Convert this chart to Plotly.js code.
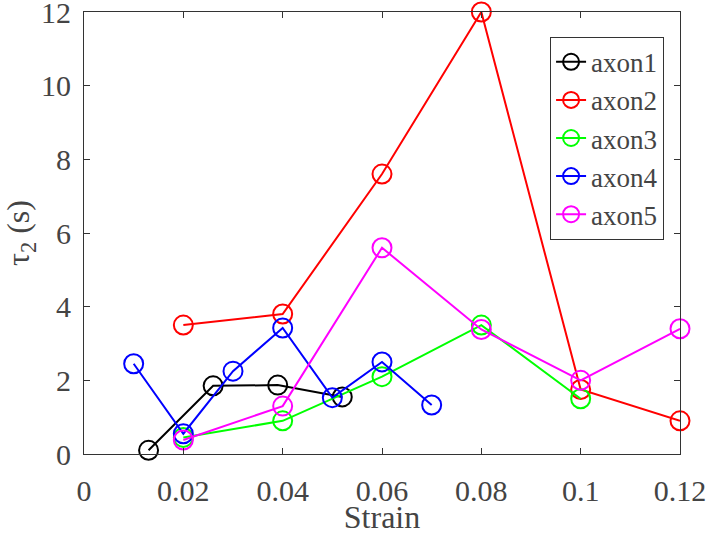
<!DOCTYPE html>
<html>
<head>
<meta charset="utf-8">
<script src="https://cdn.plot.ly/plotly-3.0.1.min.js"></script>
</head>
<body style="margin:0;background:#fff">
<div id="chart"></div>
<script>
const seriesNames = ["axon1", "axon2", "axon3", "axon4", "axon5"];
const seriesColors = ["#000000", "#ff0000", "#00ff00", "#0000ff", "#ff00ff"];

const axon1X = [0.013, 0.026, 0.039, 0.052];
const axon1Y = [0.1, 1.85, 1.87, 1.55];

const axon2X = [0.02, 0.04, 0.06, 0.08, 0.10, 0.12];
const axon2Y = [3.5, 3.8, 7.6, 12.0, 1.75, 0.9];

const axon3X = [0.02, 0.04, 0.06, 0.08, 0.10];
const axon3Y = [0.45, 0.9, 2.1, 3.5, 1.5];

const axon4X = [0.01, 0.02, 0.03, 0.04, 0.05, 0.06, 0.07];
const axon4Y = [2.45, 0.55, 2.25, 3.42, 1.53, 2.5, 1.33];

const axon5X = [0.02, 0.04, 0.06, 0.08, 0.10, 0.12];
const axon5Y = [0.38, 1.3, 5.6, 3.38, 2.0, 3.4];

const xTickVals = [0, 0.02, 0.04, 0.06, 0.08, 0.1, 0.12];
const xTickText = ["0", "0.02", "0.04", "0.06", "0.08", "0.1", "0.12"];
const yTickVals = [0, 2, 4, 6, 8, 10, 12];
const yTickText = ["0", "2", "4", "6", "8", "10", "12"];

const xs = [axon1X, axon2X, axon3X, axon4X, axon5X];
const ys = [axon1Y, axon2Y, axon3Y, axon4Y, axon5Y];

const traces = seriesNames.map((n, i) => ({
  type: "scatter",
  mode: "lines+markers",
  name: n,
  x: xs[i],
  y: ys[i],
  line: {color: seriesColors[i], width: 2},
  marker: {symbol: "circle-open", size: 19, color: seriesColors[i], line: {width: 2, color: seriesColors[i]}},
  cliponaxis: false
}));

const layout = {
  width: 708,
  height: 535,
  margin: {l: 84, r: 28, t: 12, b: 81},
  paper_bgcolor: "#ffffff",
  plot_bgcolor: "#ffffff",
  showlegend: true,
  legend: {
    x: 0.782, y: 0.944, xanchor: "left", yanchor: "top",
    bgcolor: "#ffffff", bordercolor: "#333333", borderwidth: 1,
    font: {family: "Liberation Serif", size: 27},
    itemwidth: 30,
    tracegroupgap: 0
  },
  xaxis: {
    showgrid: false, zeroline: false, showline: true,
    linecolor: "#333333", linewidth: 1, mirror: "ticks",
    ticks: "inside", ticklen: 6, tickwidth: 1, tickcolor: "#333333",
    ticklabeloverflow: "allow",
    ticklabelstandoff: 10,
    tickfont: {family: "Liberation Serif", size: 30},
    range: [0, 0.12],
    tickvals: xTickVals,
    ticktext: xTickText,
    title: {text: "Strain", font: {family: "Liberation Serif", size: 32}, standoff: 4}
  },
  yaxis: {
    showgrid: false, zeroline: false, showline: true,
    linecolor: "#333333", linewidth: 1, mirror: "ticks",
    ticks: "inside", ticklen: 6, tickwidth: 1, tickcolor: "#333333",
    ticklabeloverflow: "allow",
    ticklabelstandoff: 6,
    tickfont: {family: "Liberation Serif", size: 30},
    range: [0, 12],
    tickvals: yTickVals,
    ticktext: yTickText,
    title: {text: "τ<sub>2</sub> (s)", font: {family: "Liberation Serif", size: 32}, standoff: 10}
  }
};

Plotly.newPlot("chart", traces, layout, {displayModeBar: false});
</script>
</body>
</html>
